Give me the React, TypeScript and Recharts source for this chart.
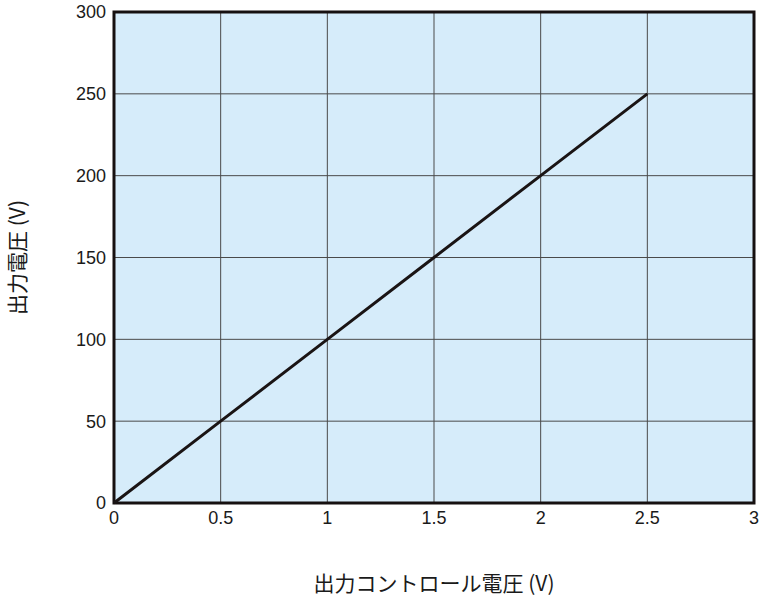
import { LineChart, Line, XAxis, YAxis, CartesianGrid, ReferenceArea, Label } from "recharts";

const controlVoltage = [0, 0.5, 1, 1.5, 2, 2.5];
const outputVoltage = [0, 50, 100, 150, 200, 250];
const xTicks = [0, 0.5, 1, 1.5, 2, 2.5, 3];
const yTicks = [0, 50, 100, 150, 200, 250, 300];

const data = controlVoltage.map((v, i) => ({ x: v, y: outputVoltage[i] }));

const tickStyle = { fill: "#1a1a1a", fontSize: 18, fontFamily: "Liberation Sans, Arial, sans-serif" };
const labelFont = "'Noto Sans CJK JP', sans-serif";

export default function App() {
	return (
		<div style={{ position: "absolute", left: 0, top: 0 }}>
			<LineChart width={768} height={599} data={data} margin={{ top: 12, right: 14, bottom: 0, left: 0 }}>
				<CartesianGrid stroke="#4a4a4a" strokeWidth={1} fill="#d6ecfa" fillOpacity={1} />
				<XAxis
					dataKey="x"
					type="number"
					domain={[0, 3]}
					ticks={xTicks}
					axisLine={false}
					tickLine={false}
					tick={tickStyle}
					height={96}
				>
					<Label
						value="出力コントロール電圧 (V)"
						position="insideBottom"
						offset={8}
						style={{ fill: "#1a1a1a", fontSize: 21, fontFamily: labelFont }}
					/>
				</XAxis>
				<YAxis
					type="number"
					domain={[0, 300]}
					ticks={yTicks}
					axisLine={false}
					tickLine={false}
					tick={tickStyle}
					width={114}
				>
					<Label
						value="出力電圧 (V)"
						angle={-90}
						position="insideLeft"
						offset={18}
						style={{ textAnchor: "middle", fill: "#1a1a1a", fontSize: 21, fontFamily: labelFont }}
					/>
				</YAxis>
				<ReferenceArea x1={0} x2={3} y1={0} y2={300} fill="none" stroke="#161010" strokeWidth={3} />
				<Line
					type="linear"
					dataKey="y"
					stroke="#1a1414"
					strokeWidth={3}
					dot={false}
					isAnimationActive={false}
				/>
			</LineChart>
		</div>
	);
}
